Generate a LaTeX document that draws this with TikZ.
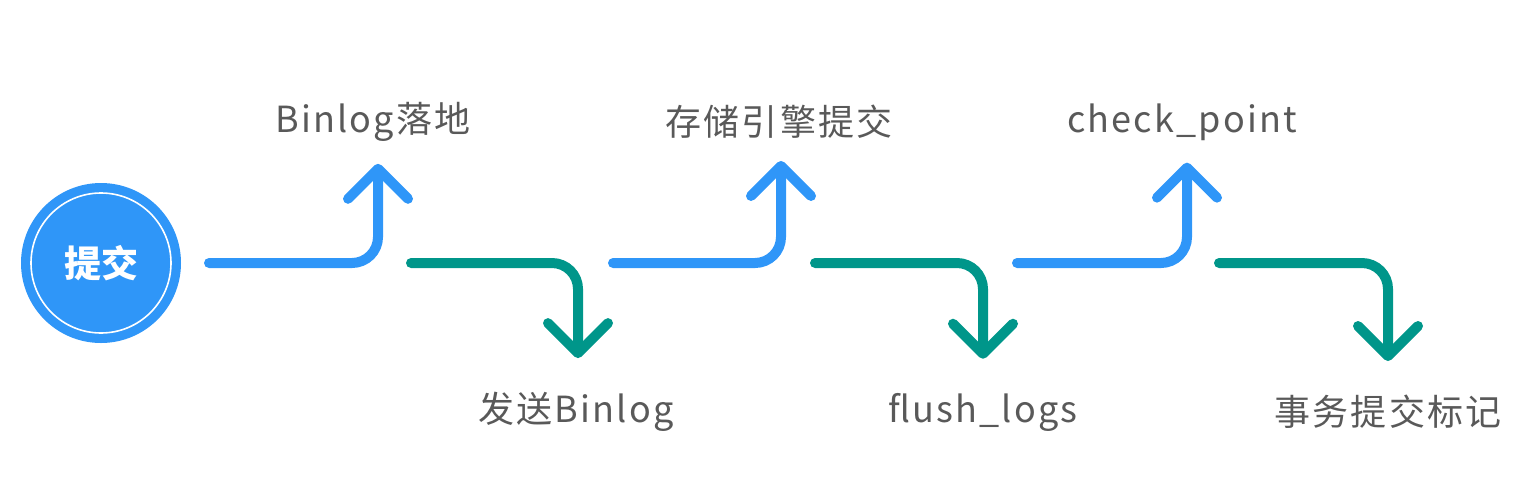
\documentclass[tikz,border=0pt]{standalone}
\usepackage{fontspec}
\setmainfont{Noto Sans CJK SC}
\usepackage{xcolor}
\usepackage{tikz}
\usetikzlibrary{arrows.meta, positioning}
\definecolor{flowblue}{HTML}{2F96F8}
\definecolor{flowgreen}{HTML}{00968A}
\definecolor{labelgray}{HTML}{595959}

\begin{document}
\begin{tikzpicture}[
    x=1pt, y=-1pt,
    start/.style = {circle, fill=flowblue, minimum size=160pt, inner sep=0pt,
                    text=white, font=\fontsize{37}{40}\selectfont\bfseries},
    ring/.style  = {draw=white, line width=1.6pt},
    lbl/.style   = {text=labelgray, inner sep=0pt, font=\fontsize{36}{40}\selectfont\addfontfeatures{LetterSpace=6}},
    up/.style    = {draw=flowblue, line width=10pt, line cap=round, rounded corners=26pt,
                    -{Straight Barb[length=30pt, width=60pt, round]}},
    down/.style  = {draw=flowgreen, line width=10pt, line cap=round, rounded corners=26pt,
                    -{Straight Barb[length=30pt, width=60pt, round]}}
  ]
  \useasboundingbox (0,0) rectangle (1532,480);

  % ── Start ────────────────────────────────────────────────────────────────
  \node[start] (commit) at (101,263) {提交};
  \draw[ring] (commit.center) circle (70);

  % ── Labels ───────────────────────────────────────────────────────────────
  \node[lbl] (binlog)  at (373,122) {Binlog落地};
  \node[lbl] (send)    at (576,412) {发送Binlog};
  \node[lbl] (engine)  at (779,122) {存储引擎提交};
  \node[lbl] (flush)   at (983,412) {flush\_logs};
  \node[lbl] (ckpt)    at (1182,122) {check\_point};
  \node[lbl] (mark)    at (1388,412) {事务提交标记};

  % ── Arrow starts ─────────────────────────────────────────────────────────
  \coordinate (s1) at (209,263);
  \coordinate (s2) at (411,263);
  \coordinate (s3) at (613,263);
  \coordinate (s4) at (815,263);
  \coordinate (s5) at (1017,263);
  \coordinate (s6) at (1219,263);

  % ── Flow ─────────────────────────────────────────────────────────────────
  \draw[up]   (s1) -| ([xshift=5pt,yshift=-22pt]binlog.south);
  \draw[down] (s2) -| ([xshift=2pt,yshift=34pt]send.north);
  \draw[up]   (s3) -| ([xshift=2pt,yshift=-22pt]engine.south);
  \draw[down] (s4) -| ([yshift=34pt]flush.north);
  \draw[up]   (s5) -| ([xshift=5pt,yshift=-22pt]ckpt.south);
  \draw[down] (s6) -| ([yshift=34pt]mark.north);

\end{tikzpicture}
\end{document}
